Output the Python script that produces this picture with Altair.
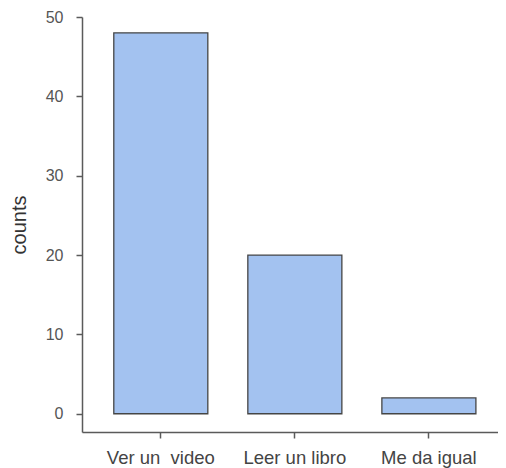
import altair as alt
import pandas as pd

categories = ["Ver un \u00a0video", "Leer un libro", "Me da igual"]
counts = [48, 20, 2]
y_ticks = [0, 10, 20, 30, 40, 50]

df = pd.DataFrame({"cat": categories, "counts": counts})

FONT = "Liberation Sans"

chart = alt.Chart(df).mark_bar(
    fill="#a3c2f0", stroke="#454545", strokeWidth=1.3
).encode(
    x=alt.X("cat:N", sort=categories, title=None,
            scale=alt.Scale(paddingInner=0.2985, paddingOuter=0.201, align=0.59),
            axis=alt.Axis(labelAngle=0, labelFontSize=18.5, labelColor="#444444",
                          labelPadding=10, tickSize=6, domainColor="#5a5a5a",
                          domainWidth=1.5, tickWidth=1.5,
                          tickColor="#5a5a5a", labelFont=FONT)),
    y=alt.Y("counts:Q", title="counts",
            scale=alt.Scale(domain=[-2.3, 50], nice=False, zero=False),
            axis=alt.Axis(values=y_ticks, grid=False, labelFontSize=16,
                          labelColor="#555555", tickSize=6, labelPadding=13,
                          domainColor="#5a5a5a", tickColor="#5a5a5a",
                          domainWidth=1.5, tickWidth=1.5,
                          titleFontSize=20, titleFontWeight="normal",
                          titleColor="#333333", titlePadding=16,
                          labelFont=FONT, titleFont=FONT)),
    y2=alt.datum(0),
).properties(
    width=416, height=415,
    autosize=alt.AutoSizeParams(type="none"),
    padding={"left": 74, "top": 9, "right": 0, "bottom": 36},
).configure_view(stroke=None)

chart.save("out.html", embed_options={"renderer": "svg", "actions": False})
